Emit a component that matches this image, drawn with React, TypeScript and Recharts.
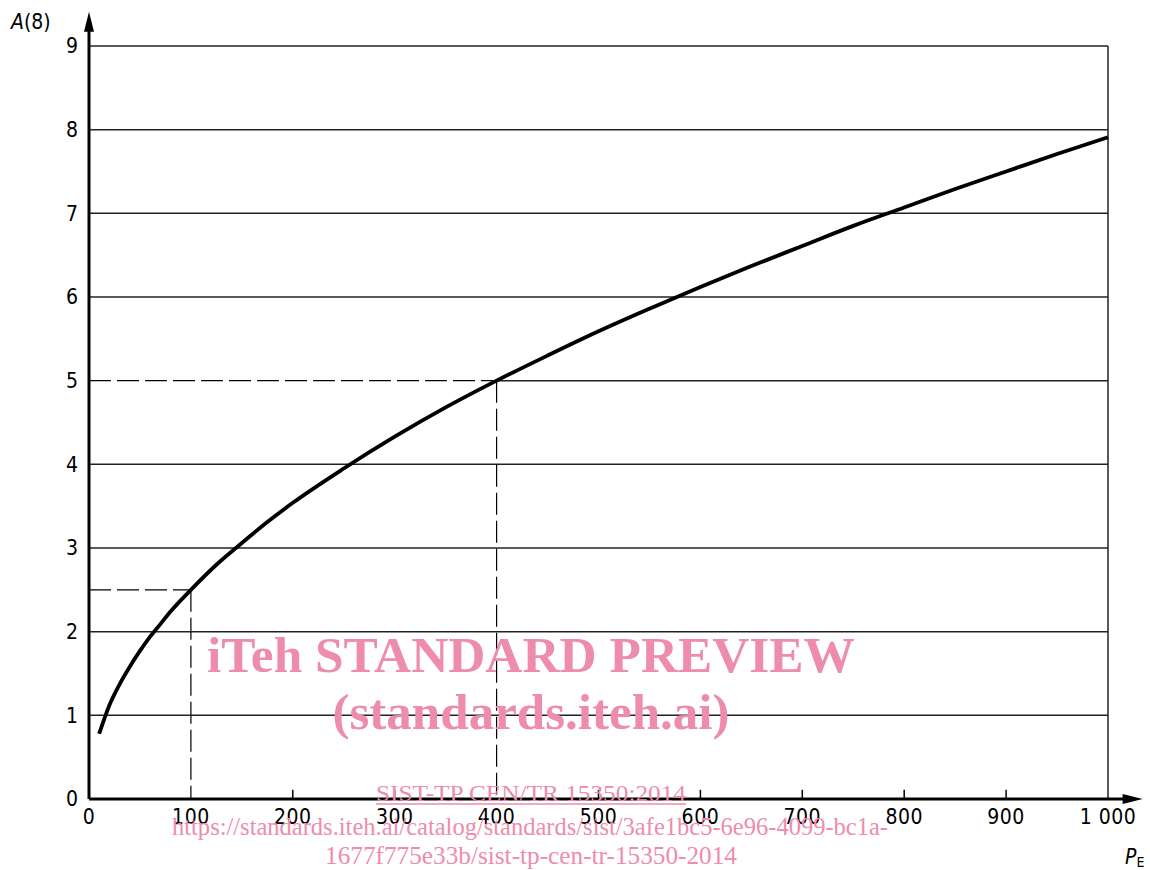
import React from 'react';
import { LineChart, Line, XAxis, YAxis, ReferenceLine, ReferenceDot } from 'recharts';

const pe = [10, 20, 30, 40, 50, 60, 70, 80, 100, 125, 150, 175, 200, 250, 300, 350, 400, 450, 500, 550, 600, 650, 700, 750, 800, 850, 900, 950, 1000];
const a8 = [0.78, 1.12, 1.37, 1.58, 1.77, 1.94, 2.09, 2.24, 2.5, 2.8, 3.06, 3.31, 3.54, 3.95, 4.33, 4.68, 5.0, 5.3, 5.59, 5.86, 6.12, 6.37, 6.61, 6.85, 7.07, 7.29, 7.5, 7.71, 7.91];
const xTicks = [0, 100, 200, 300, 400, 500, 600, 700, 800, 900, 1000];
const yTicks = [0, 1, 2, 3, 4, 5, 6, 7, 8, 9];
const gridLines = [
  { y: 1, from: 0 },
  { y: 2, from: 0 },
  { y: 3, from: 0 },
  { y: 4, from: 0 },
  { y: 5, from: 400 },
  { y: 6, from: 0 },
  { y: 7, from: 0 },
  { y: 8, from: 0 },
  { y: 9, from: 0 },
];
const minorTicks = [200, 300, 500, 600, 700, 800, 900];
const guides = [
  { p: 100, a: 2.5 },
  { p: 400, a: 5 },
];

const data = pe.map((p, i) => ({ p, a: a8[i] }));

const FONT = '"DejaVu Sans Condensed", "DejaVu Sans", sans-serif';
const PINK = '#EE8CAB';

const UpArrow = (props: any) => {
  const { cx, cy } = props;
  return <path d={`M${cx},${cy} L${cx - 5},${cy + 20} L${cx + 5},${cy + 20} Z`} fill="#000" />;
};
const RightArrow = (props: any) => {
  const { cx, cy } = props;
  return <path d={`M${cx},${cy} L${cx - 20},${cy - 5} L${cx - 20},${cy + 5} Z`} fill="#000" />;
};

export default function App() {
  return (
    <div style={{ position: 'absolute', left: 0, top: 0, width: 1150, height: 870, background: '#fff' }}>
      <LineChart width={1150} height={870} data={data} margin={{ top: 46, right: 42, bottom: 0, left: 0 }}>
        <XAxis
          dataKey="p"
          type="number"
          domain={[0, 1000]}
          ticks={xTicks}
          axisLine={false}
          tickLine={false}
          tickSize={0}
          tickMargin={10}
          height={71}
          tickFormatter={(v: number) => (v === 1000 ? '1 000' : String(v))}
          tick={{ fill: '#000', fontSize: 21, fontFamily: FONT, letterSpacing: 0.5 }}
        />
        <YAxis
          type="number"
          domain={[0, 9]}
          ticks={yTicks}
          axisLine={false}
          tickLine={false}
          tickSize={0}
          tickMargin={11}
          width={89}
          tick={{ fill: '#000', fontSize: 21, fontFamily: FONT }}
        />
        {gridLines.map((g) => (
          <ReferenceLine key={'g' + g.y} segment={[{ x: g.from, y: g.y }, { x: 1000, y: g.y }]} stroke="#222" strokeWidth={1.5} />
        ))}
        <ReferenceLine segment={[{ x: 1000, y: 0 }, { x: 1000, y: 9 }]} stroke="#222" strokeWidth={1.5} />
        {minorTicks.map((t) => (
          <ReferenceLine key={t} segment={[{ x: t, y: 0 }, { x: t, y: 0.11 }]} stroke="#000" strokeWidth={1.5} />
        ))}
        {guides.map((g) => (
          <ReferenceLine key={'h' + g.p} segment={[{ x: 0, y: g.a }, { x: g.p, y: g.a }]} stroke="#000" strokeWidth={1.2} strokeDasharray="22 6" />
        ))}
        {guides.map((g) => (
          <ReferenceLine key={'v' + g.p} segment={[{ x: g.p, y: g.a }, { x: g.p, y: 0 }]} stroke="#000" strokeWidth={1.2} strokeDasharray="22 6" />
        ))}
        <ReferenceLine segment={[{ x: 0, y: 0 }, { x: 0, y: 9.2 }]} stroke="#000" strokeWidth={3} ifOverflow="visible" />
        <ReferenceLine segment={[{ x: 0, y: 0 }, { x: 1020, y: 0 }]} stroke="#000" strokeWidth={3} ifOverflow="visible" />
        <ReferenceDot x={0} y={9.41} r={0} ifOverflow="visible" shape={UpArrow} />
        <ReferenceDot x={1034} y={0} r={0} ifOverflow="visible" shape={RightArrow} />
        <Line type="monotone" dataKey="a" stroke="#000" strokeWidth={3.8} dot={false} isAnimationActive={false} />
      </LineChart>
      <svg width={1150} height={870} style={{ position: 'absolute', left: 0, top: 0, pointerEvents: 'none' }}>
        <text x={11} y={29} fontFamily={FONT} fontSize={21} fill="#000">
          <tspan fontStyle="italic">A</tspan>(8)
        </text>
        <text x={1125} y={864} fontFamily={FONT} fontSize={21} fill="#000">
          <tspan fontStyle="italic">P</tspan>
          <tspan fontSize={14} dy={3}>E</tspan>
        </text>
        <text x={531} y={672} textAnchor="middle" fontFamily='"Liberation Serif", serif' fontWeight="bold" fontSize={50} fill={PINK} textLength={648} lengthAdjust="spacingAndGlyphs">
          iTeh STANDARD PREVIEW
        </text>
        <text x={531} y={729} textAnchor="middle" fontFamily='"Liberation Serif", serif' fontWeight="bold" fontSize={50} fill={PINK} textLength={397} lengthAdjust="spacingAndGlyphs">
          (standards.iteh.ai)
        </text>
        <text x={531} y={801} textAnchor="middle" fontFamily='"Liberation Serif", serif' fontSize={23} fill={PINK} textLength={310} lengthAdjust="spacingAndGlyphs">
          SIST-TP CEN/TR 15350:2014
        </text>
        <line x1={376} x2={686} y1={804} y2={804} stroke={PINK} strokeWidth={1.5} />
        <text x={530} y={835} textAnchor="middle" fontFamily='"Liberation Serif", serif' fontSize={25} fill={PINK} textLength={716} lengthAdjust="spacingAndGlyphs">
          https://standards.iteh.ai/catalog/standards/sist/3afe1bc5-6e96-4099-bc1a-
        </text>
        <text x={531} y={864} textAnchor="middle" fontFamily='"Liberation Serif", serif' fontSize={25} fill={PINK} textLength={412} lengthAdjust="spacingAndGlyphs">
          1677f775e33b/sist-tp-cen-tr-15350-2014
        </text>
      </svg>
    </div>
  );
}
